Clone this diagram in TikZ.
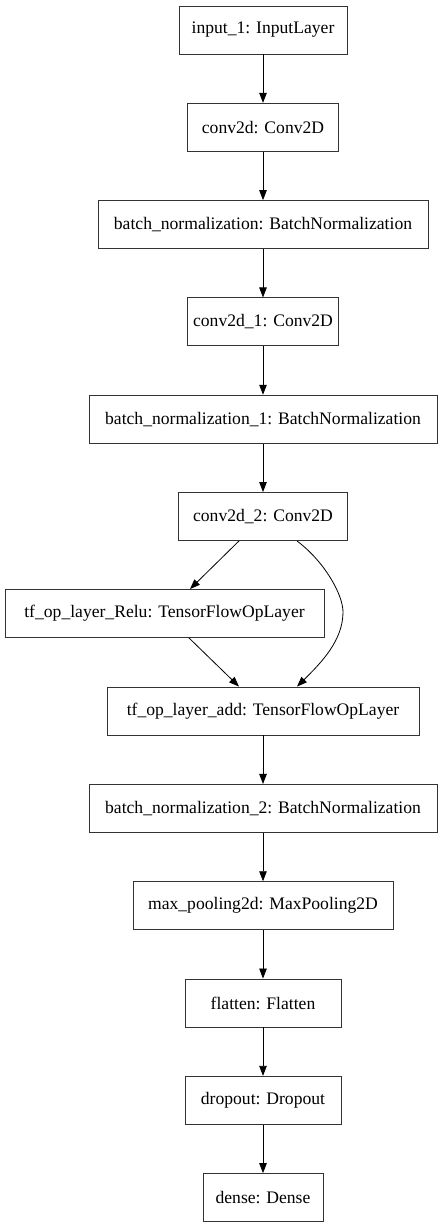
\documentclass[tikz,border=0pt]{standalone}
\usepackage{fontspec}
\setmainfont{Liberation Serif}
\usetikzlibrary{arrows.meta}
\begin{document}
\begin{tikzpicture}[x=1pt,y=-1pt,
  layer/.style={draw=black!80,line width=0.9pt,minimum height=48pt,inner sep=0pt,font=\fontsize{17.6}{20}\selectfont,anchor=center},
  edge/.style={draw=black,line width=0.8pt,-{Triangle[length=10pt,width=7.5pt]}}]
\useasboundingbox (0,0) rectangle (442,1228);
\node[layer,minimum width=168pt] (in) at (263,30) {input\_1: InputLayer};
\node[layer,minimum width=151pt] (c0) at (263,127.3) {conv2d: Conv2D};
\node[layer,minimum width=330pt] (b0) at (263,224.6) {batch\_normalization: BatchNormalization};
\node[layer,minimum width=151pt] (c1) at (263,321.9) {conv2d\_1: Conv2D};
\node[layer,minimum width=348pt] (b1) at (263,419.2) {batch\_normalization\_1: BatchNormalization};
\node[layer,minimum width=169pt] (c2) at (263,516.5) {conv2d\_2: Conv2D};
\node[layer,minimum width=319pt] (relu) at (164.5,613.5) {tf\_op\_layer\_Relu: TensorFlowOpLayer};
\node[layer,minimum width=312pt] (add) at (263,711) {tf\_op\_layer\_add: TensorFlowOpLayer};
\node[layer,minimum width=348pt] (b2) at (263,808.4) {batch\_normalization\_2: BatchNormalization};
\node[layer,minimum width=260pt] (mp) at (263,905.7) {max\_pooling2d: MaxPooling2D};
\node[layer,minimum width=156pt] (fl) at (263,1003) {flatten: Flatten};
\node[layer,minimum width=156pt] (dr) at (263,1100.3) {dropout: Dropout};
\node[layer,minimum width=120pt] (de) at (263,1197.6) {dense: Dense};
\draw[edge] (in) -- (c0);
\draw[edge] (c0) -- (b0);
\draw[edge] (b0) -- (c1);
\draw[edge] (c1) -- (b1);
\draw[edge] (b1) -- (c2);
\draw[edge] ([xshift=-24pt]c2.south) -- ([xshift=25.5pt]relu.north);
\draw[edge] ([xshift=24.5pt]relu.south) -- ([xshift=-24pt]add.north);
\draw[edge] ([xshift=34pt]c2.south) .. controls (325,562) and (343,595) .. (343,612) .. controls (343,640) and (322,662) .. ([xshift=34pt]add.north);
\draw[edge] (add) -- (b2);
\draw[edge] (b2) -- (mp);
\draw[edge] (mp) -- (fl);
\draw[edge] (fl) -- (dr);
\draw[edge] (dr) -- (de);
\end{tikzpicture}
\end{document}
